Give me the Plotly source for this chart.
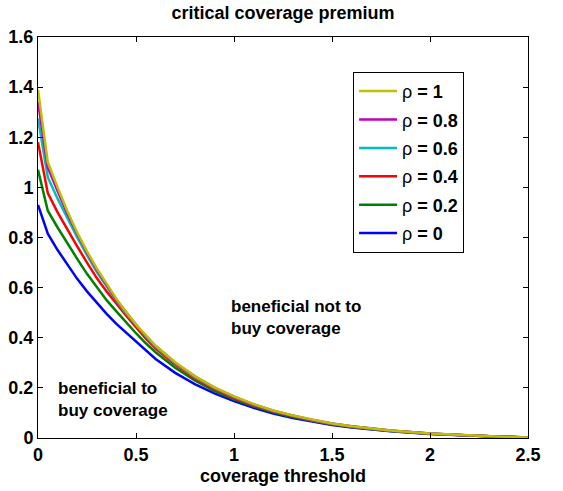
import plotly.graph_objects as go

x = [0, 0.05, 0.1, 0.15, 0.2, 0.25, 0.3, 0.35, 0.4, 0.45, 0.5, 0.55, 0.6, 0.7, 0.8, 0.9,
     1.0, 1.1, 1.2, 1.3, 1.4, 1.5, 1.6, 1.8, 2.0, 2.2, 2.4, 2.5]

rho_1 = [1.39, 1.10, 1.00, 0.905, 0.82, 0.745, 0.677, 0.615, 0.555, 0.503, 0.453, 0.41, 0.368,
         0.302, 0.247, 0.202, 0.166, 0.135, 0.11, 0.09, 0.073, 0.058, 0.047, 0.03, 0.018, 0.01, 0.004, 0.002]
rho_08 = [1.34, 1.08, 0.985, 0.895, 0.815, 0.74, 0.672, 0.612, 0.552, 0.502, 0.452, 0.408, 0.367,
          0.30, 0.246, 0.201, 0.165, 0.134, 0.109, 0.089, 0.072, 0.058, 0.047, 0.03, 0.018, 0.01, 0.004, 0.002]
rho_06 = [1.275, 1.04, 0.955, 0.875, 0.80, 0.73, 0.662, 0.605, 0.548, 0.497, 0.45, 0.405, 0.364,
          0.297, 0.243, 0.199, 0.163, 0.133, 0.108, 0.088, 0.071, 0.057, 0.046, 0.029, 0.018, 0.01, 0.004, 0.002]
rho_04 = [1.18, 0.977, 0.90, 0.83, 0.765, 0.70, 0.638, 0.585, 0.535, 0.488, 0.442, 0.396, 0.357,
          0.292, 0.238, 0.195, 0.159, 0.13, 0.106, 0.087, 0.07, 0.056, 0.045, 0.029, 0.017, 0.01, 0.004, 0.002]
rho_02 = [1.07, 0.907, 0.84, 0.775, 0.715, 0.655, 0.60, 0.55, 0.505, 0.46, 0.418, 0.378, 0.342,
          0.28, 0.23, 0.188, 0.154, 0.126, 0.103, 0.084, 0.068, 0.055, 0.044, 0.028, 0.017, 0.009, 0.004, 0.002]
rho_0 = [0.93, 0.815, 0.75, 0.69, 0.635, 0.585, 0.54, 0.495, 0.455, 0.42, 0.385, 0.35, 0.315,
         0.26, 0.215, 0.178, 0.147, 0.12, 0.098, 0.08, 0.065, 0.052, 0.042, 0.027, 0.016, 0.009, 0.004, 0.002]

series_names = ["ρ <b>= 0</b>", "ρ <b>= 0.2</b>", "ρ <b>= 0.4</b>", "ρ <b>= 0.6</b>", "ρ <b>= 0.8</b>", "ρ <b>= 1</b>"]
series_values = [rho_0, rho_02, rho_04, rho_06, rho_08, rho_1]
series_colors = ["#0000ff", "#008000", "#ff0000", "#00bfbf", "#bf00bf", "#bfbf00"]

x_ticks = [0, 0.5, 1, 1.5, 2, 2.5]
x_tick_labels = ["0", "0.5", "1", "1.5", "2", "2.5"]
y_ticks = [0, 0.2, 0.4, 0.6, 0.8, 1, 1.2, 1.4, 1.6]
y_tick_labels = ["0", "0.2", "0.4", "0.6", "0.8", "1", "1.2", "1.4", "1.6"]

FONT = "Liberation Sans, Arial, Helvetica, sans-serif"

fig = go.Figure()
n = len(series_names)
for i, (name, vals, col) in enumerate(zip(series_names, series_values, series_colors)):
    fig.add_trace(go.Scatter(
        x=x, y=vals, mode="lines", name=name, legendgroup=f"g{i}", legendrank=n - i,
        line=dict(color=col, width=2.5),
    ))

fig.add_annotation(x=0.975, y=0.48, xref="x", yref="y", text="<b>beneficial not to<br>buy coverage</b>",
                   showarrow=False, xanchor="left", yanchor="middle", align="left",
                   font=dict(family=FONT, size=17, color="black"))
fig.add_annotation(x=0.09, y=0.155, xref="x", yref="y", text="<b>beneficial to<br>buy coverage</b>",
                   showarrow=False, xanchor="left", yanchor="middle", align="left",
                   font=dict(family=FONT, size=17, color="black"))

axis_common = dict(
    showline=True, linecolor="black", linewidth=1, mirror="ticks",
    ticks="inside", ticklen=5, tickcolor="black", tickwidth=1,
    showgrid=False, zeroline=False, automargin=False,
    tickfont=dict(family=FONT, size=18, color="black", weight="bold"),
)

fig.update_layout(
    width=563, height=491,
    margin=dict(l=38, r=35, t=37, b=53),
    paper_bgcolor="white", plot_bgcolor="white",
    title=dict(text="<b>critical coverage premium</b>", x=0.5027, xanchor="center",
               y=1 - 13 / 491, yanchor="middle", font=dict(family=FONT, size=18, color="black")),
    xaxis=dict(range=[0, 2.5], tickvals=x_ticks, ticktext=x_tick_labels,
               title=dict(text="<b>coverage threshold</b>", font=dict(family=FONT, size=18, color="black"),
                          standoff=5),
               **axis_common),
    yaxis=dict(range=[0, 1.6], tickvals=y_ticks, ticktext=y_tick_labels, **axis_common),
    legend=dict(x=0.643, y=0.913, xanchor="left", yanchor="top", traceorder="grouped",
                bordercolor="black", borderwidth=1, bgcolor="white", tracegroupgap=2,
                itemwidth=38,
                font=dict(family=FONT, size=18, color="black")),
    showlegend=True,
)

fig.write_html("out.html")
